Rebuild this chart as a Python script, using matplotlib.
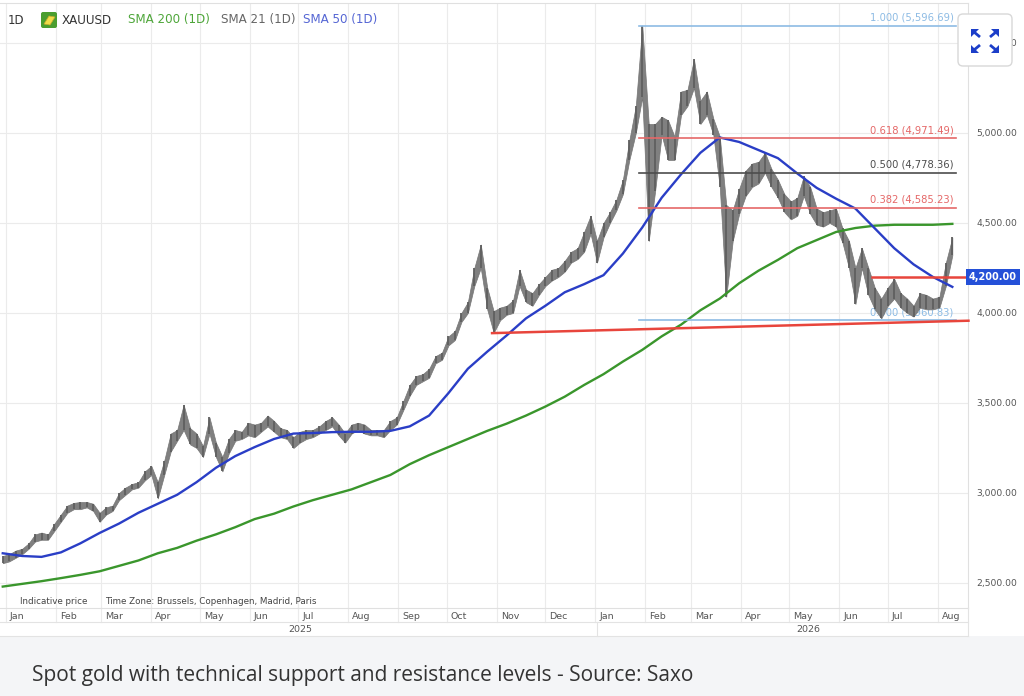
import matplotlib
matplotlib.use('Agg')
import matplotlib.pyplot as plt
import matplotlib.ticker as mticker
from matplotlib.patches import FancyBboxPatch, Rectangle, Polygon
from matplotlib.transforms import ScaledTranslation, IdentityTransform, blended_transform_factory
from matplotlib.lines import Line2D
import pandas as pd

# ---------------- data ----------------
price_low = [2610, 2620, 2640, 2660, 2690, 2730, 2740, 2740, 2790, 2840,
             2890, 2910, 2910, 2920, 2900, 2840, 2880, 2900, 2960, 2990,
             3020, 3030, 3070, 3100, 2970, 3100, 3230, 3290, 3350, 3270,
             3250, 3200, 3330, 3200, 3120, 3220, 3290, 3300, 3320, 3310,
             3340, 3370, 3340, 3310, 3300, 3250, 3280, 3300, 3310, 3330,
             3350, 3370, 3320, 3280, 3330, 3350, 3330, 3320, 3320, 3310,
             3350, 3380, 3460, 3540, 3600, 3620, 3640, 3720, 3740, 3820,
             3850, 3950, 4000, 4150, 4250, 4020, 3890, 3960, 3990, 4000,
             4150, 4060, 4040, 4100, 4150, 4180, 4200, 4230, 4280, 4300,
             4340, 4440, 4280, 4420, 4500, 4570, 4660, 4850, 5000, 5200,
             4400, 4680, 4990, 4850, 4850, 5100, 5150, 5250, 5050, 5100,
             4990, 4700, 4090, 4400, 4550, 4650, 4700, 4720, 4780, 4700,
             4640, 4560, 4520, 4540, 4650, 4550, 4490, 4480, 4500, 4480,
             4390, 4250, 4050, 4250, 4100, 4020, 3970, 4040, 4080, 4030,
             4000, 3980, 4030, 4020, 4020, 4030, 4150, 4320]
price_high = [2650, 2660, 2680, 2690, 2720, 2770, 2780, 2770, 2830, 2880,
              2930, 2945, 2950, 2950, 2940, 2890, 2920, 2930, 3000, 3030,
              3050, 3060, 3120, 3150, 3060, 3180, 3330, 3350, 3490, 3360,
              3330, 3260, 3420, 3280, 3200, 3300, 3350, 3340, 3390, 3380,
              3390, 3430, 3400, 3360, 3350, 3310, 3340, 3350, 3350, 3370,
              3400, 3420, 3380, 3330, 3380, 3390, 3380, 3350, 3350, 3350,
              3400, 3420, 3510, 3600, 3650, 3660, 3690, 3760, 3780, 3870,
              3900, 4000, 4060, 4250, 4380, 4140, 4010, 4030, 4040, 4070,
              4240, 4130, 4110, 4160, 4200, 4240, 4250, 4290, 4340, 4360,
              4450, 4540, 4400, 4500, 4560, 4630, 4740, 4960, 5150, 5597,
              5050, 5050, 5090, 5070, 4980, 5230, 5240, 5410, 5180, 5230,
              5080, 4980, 4600, 4570, 4690, 4790, 4830, 4840, 4890, 4800,
              4740, 4660, 4620, 4640, 4760, 4700, 4580, 4560, 4570, 4580,
              4470, 4400, 4250, 4360, 4250, 4140, 4080, 4140, 4190, 4110,
              4080, 4040, 4110, 4100, 4080, 4090, 4280, 4420]
sma50 = [2665, 2650, 2645, 2670, 2720, 2778, 2830, 2890, 2940, 2990,
         3060, 3140, 3205, 3255, 3300, 3330, 3333, 3338, 3340, 3340,
         3345, 3370, 3430, 3555, 3690, 3785, 3875, 3970, 4040, 4115,
         4160, 4210, 4330, 4475, 4640, 4770, 4890, 4975, 4950, 4905,
         4860, 4775, 4695, 4635, 4580, 4470, 4360, 4270, 4200, 4145]
sma200 = [2480, 2495, 2510, 2527, 2545, 2565, 2595, 2625, 2665, 2695,
          2735, 2770, 2810, 2855, 2885, 2925, 2960, 2990, 3020, 3060,
          3100, 3160, 3210, 3255, 3300, 3345, 3385, 3430, 3480, 3535,
          3600, 3660, 3730, 3795, 3870, 3935, 4015, 4080, 4165, 4235,
          4295, 4360, 4405, 4450, 4472, 4485, 4490, 4490, 4490, 4495]

fib_ratios = [1.0, 0.618, 0.5, 0.382, 0.0]
fib_values = [5596.69, 4971.49, 4778.36, 4585.23, 3960.83]
fib_colors = ['#8dbbe4', '#e56868', '#4d4d4d', '#e56868', '#8dbbe4']
fib_start, fib_end = '2026-01-28', '2026-08-12'

support_dates = ['2025-10-29', '2026-08-20']
support_values = [3888, 3957]
resistance_dates = ['2026-06-21', '2026-08-20']
resistance_value = 4200

y_ticks = [2500, 3000, 3500, 4000, 4500, 5000, 5500]
month_labels = ['Jan', 'Feb', 'Mar', 'Apr', 'May', 'Jun', 'Jul', 'Aug', 'Sep', 'Oct',
                'Nov', 'Dec', 'Jan', 'Feb', 'Mar', 'Apr', 'May', 'Jun', 'Jul', 'Aug']
year_labels = ['2025', '2026']
legend_items = [('XAUUSD', '#333333'), ('SMA 200 (1D)', '#4ea63a'),
                ('SMA 21 (1D)', '#666666'), ('SMA 50 (1D)', '#5566d4')]
caption = 'Spot gold with technical support and resistance levels - Source: Saxo'

# ---------------- figure ----------------
W, H = 1024, 696
fig = plt.figure(figsize=(W / 100, H / 100), dpi=100)
fig.patch.set_facecolor('white')


def fx(px):
    return px / W


def fy(py):
    return 1 - py / H


ax = fig.add_axes([0, fy(608), 968 / W, (608 - 3) / H])
ax.set_facecolor('white')

price_dates = pd.date_range('2024-12-30', periods=len(price_low), freq='4D')
sma_dates = pd.date_range('2024-12-30', periods=len(sma50), freq='12D')

ax.fill_between(price_dates, price_low, price_high, color='#808080', lw=0.5,
                edgecolor='#767676', zorder=2)
ax.vlines(price_dates, price_low, price_high, color='#5f5f5f', lw=1.3, zorder=2.1)

ax.plot(sma_dates, sma200, color='#3a962c', lw=1.7, zorder=3)
ax.plot(sma_dates, sma50, color='#2a3ec6', lw=1.7, zorder=3)

# Fibonacci levels
for r, v, c in zip(fib_ratios, fib_values, fib_colors):
    ax.plot(pd.to_datetime([fib_start, fib_end]), [v, v], color=c, lw=1.2, zorder=4)
    t = ax.text(pd.Timestamp(fib_end), v, f'{r:.3f} ({v:,.2f})', color=c,
                fontsize=7.2, ha='right', va='bottom', zorder=1.5)
    t.set_transform(ax.transData + ScaledTranslation(-2 / 100, 3 / 100, fig.dpi_scale_trans))

# support & resistance
ax.plot(pd.to_datetime(support_dates), support_values, color='#e8453c', lw=1.8,
        zorder=4, clip_on=False)
ax.plot(pd.to_datetime(resistance_dates), [resistance_value] * 2, color='#e8453c',
        lw=1.8, zorder=4, clip_on=False)

# axes limits
ax.set_xlim(pd.Timestamp('2024-12-28 07:00'), pd.Timestamp('2026-08-19 17:00'))
ax.set_ylim(2361, 5722)

# y axis on right
ax.yaxis.tick_right()
ax.set_yticks(y_ticks)
ax.yaxis.set_major_formatter(mticker.FuncFormatter(lambda v, p: f'{v:,.2f}'))
ax.tick_params(axis='y', length=0, pad=6, labelsize=6.6, labelcolor='#555555')

# x axis months
month_ticks = pd.date_range('2025-01-01', '2026-08-01', freq='MS')
ax.set_xticks(month_ticks)
ax.set_xticklabels(month_labels, fontsize=6.8, color='#555555', ha='left')
ax.tick_params(axis='x', length=0, pad=3)
for lbl in ax.get_xticklabels():
    lbl.set_transform(lbl.get_transform() + ScaledTranslation(4 / 100, 0, fig.dpi_scale_trans))

ax.grid(True, color='#ebebeb', lw=0.8, zorder=0)
ax.set_axisbelow(True)
for s in ax.spines.values():
    s.set_color('#e0e0e0')
    s.set_linewidth(0.8)
ax.spines['left'].set_visible(False)

# month grid extension into label row
xtr = ax.get_xaxis_transform()
for d in month_ticks:
    ax.plot([d, d], [0, -14 / 605], transform=xtr, color='#ebebeb', lw=0.8, clip_on=False)

# 4200 label box
btr = blended_transform_factory(ax.transAxes, ax.transData)
ax.text(1.001, resistance_value, f'{resistance_value:,.2f}', transform=btr, color='white',
        fontsize=7, fontweight='bold', ha='left', va='center', zorder=6,
        bbox=dict(boxstyle='square,pad=0.3', fc='#2450d8', ec='none'))

# time axis rows
for py in (622, 636):
    fig.add_artist(Line2D([0, fx(968)], [fy(py), fy(py)], color='#e3e3e3', lw=0.8))
fig.add_artist(Line2D([fx(968), fx(968)], [fy(608), fy(636)], color='#e3e3e3', lw=0.8))
fig.add_artist(Line2D([fx(597), fx(597)], [fy(622), fy(636)], color='#e3e3e3', lw=0.8))
fig.text(fx(300), fy(629), year_labels[0], fontsize=6.8, color='#555555', ha='center', va='center')
fig.text(fx(808), fy(629), year_labels[1], fontsize=6.8, color='#555555', ha='center', va='center')

fig.text(fx(20), fy(601), 'Indicative price', fontsize=6.3, color='#444444', va='center')
fig.text(fx(105), fy(601), 'Time Zone: Brussels, Copenhagen, Madrid, Paris', fontsize=6.3,
         color='#444444', va='center')

# legend row
fig.text(fx(8), fy(20), '1D', fontsize=8.5, color='#333333', va='center')
fig.add_artist(FancyBboxPatch((41, H - 28), 16, 16, boxstyle='round,pad=0,rounding_size=2',
                              transform=IdentityTransform(), fc='#4a9e2f', ec='none'))
fig.add_artist(Polygon([[44, H - 24], [49, H - 16], [55, H - 17], [50, H - 25]],
                       closed=True, transform=IdentityTransform(), fc='#f0dc4a', ec='#c9a92a', lw=0.5))
xs = [62, 128, 221, 303]
for (txt, col), px in zip(legend_items, xs):
    fig.text(fx(px), fy(20), txt, fontsize=8.6, color=col, va='center')

# expand button (pixel-drawn icon)
fig.add_artist(FancyBboxPatch((958, H - 66), 54, 52, boxstyle='round,pad=0,rounding_size=5',
                              transform=IdentityTransform(), fc='white', ec='#d8d8d8', lw=1, zorder=10))
cx, cy = 985, 41
for dx, dy in ((-1, -1), (1, -1), (-1, 1), (1, 1)):
    tipx, tipy = cx + dx * 14, cy + dy * 12
    head = [[tipx, H - tipy], [tipx - dx * 8, H - tipy], [tipx, H - (tipy - dy * 8)]]
    fig.add_artist(Polygon(head, closed=True, transform=IdentityTransform(),
                           fc='#1c3ec9', ec='none', zorder=11))
    fig.add_artist(Line2D([tipx - dx * 3, cx + dx * 5], [H - (tipy - dy * 3), H - (cy + dy * 4)],
                          transform=IdentityTransform(), color='#1c3ec9', lw=2.0,
                          solid_capstyle='butt', zorder=11))

# caption area
fig.add_artist(Rectangle((0, 0), 1, fy(636), transform=fig.transFigure, fc='#f4f5f7',
                         ec='none', zorder=0))
fig.text(fx(32), fy(675), caption, fontsize=15, color='#333333', va='center',
         family='Open Sans')

fig.savefig('out.png', dpi=100)
